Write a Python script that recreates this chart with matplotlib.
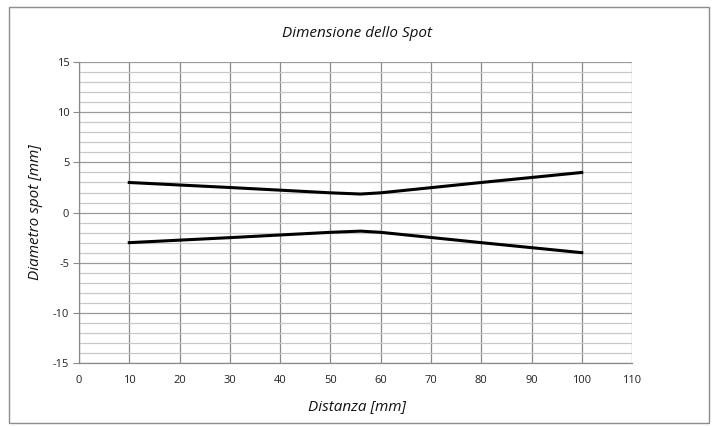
import numpy as np
import matplotlib.pyplot as plt
from matplotlib.patches import Rectangle

# data
distanza = [10, 30, 50, 56, 60, 80, 100]  # mm
raggio_sup = [3.0, 2.5, 1.97, 1.85, 1.97, 3.0, 4.0]  # upper edge of the spot, mm
raggio_inf = [-3.0, -2.5, -1.97, -1.85, -1.97, -3.0, -4.0]  # lower edge of the spot, mm

x_ticks = list(range(0, 111, 10))
y_ticks = list(range(-15, 16, 5))

title_font = "Open Sans"
tick_font = "Open Sans"

plt.rcParams["axes.unicode_minus"] = False  # plain hyphen like "-15"


def main():
    fig = plt.figure(figsize=(7.15, 4.26), dpi=100)
    ax = fig.add_axes([0.1105, 0.148, 0.7735, 0.706])

    # light frame around the whole chart
    fig.patches.append(Rectangle((0.012, 0.008), 0.98, 0.975, transform=fig.transFigure,
                                 fill=False, edgecolor="#8c8c8c", linewidth=1.0))

    ax.plot(distanza, raggio_sup, color="black", linewidth=2.2, solid_joinstyle="round")
    ax.plot(distanza, raggio_inf, color="black", linewidth=2.2, solid_joinstyle="round")

    ax.set_xlim(0, 110)
    ax.set_ylim(-15, 15)
    ax.set_xticks(x_ticks)
    ax.set_yticks(y_ticks)
    ax.set_yticks(range(-15, 16, 1), minor=True)

    ax.grid(which="major", axis="x", color="#8a8a8a", linewidth=0.9)
    ax.grid(which="major", axis="y", color="#9a9a9a", linewidth=0.9)
    ax.grid(which="minor", axis="y", color="#c8c8c8", linewidth=0.9)
    ax.set_axisbelow(True)

    for side in ["top", "right"]:
        ax.spines[side].set_visible(False)
    for side in ["left", "bottom"]:
        ax.spines[side].set_color("#8a8a8a")
        ax.spines[side].set_linewidth(0.9)

    ax.tick_params(axis="y", which="major", length=4, color="#8a8a8a", pad=3)
    ax.tick_params(axis="y", which="minor", length=0)
    ax.tick_params(axis="x", which="major", length=0, pad=9)
    for lab in ax.get_xticklabels() + ax.get_yticklabels():
        lab.set_fontfamily(tick_font)
        lab.set_fontsize(8)
        lab.set_color("#222222")

    fig.text(0.5, 0.922, "Dimensione dello Spot", ha="center", va="center",
             fontsize=11, style="italic", family=title_font, color="#111111")
    fig.text(0.5, 0.045, "Distanza [mm]", ha="center", va="center",
             fontsize=11, style="italic", family=title_font, color="#111111")
    fig.text(0.05, 0.501, "Diametro spot [mm]", ha="center", va="center", rotation=90,
             fontsize=11, style="italic", family=title_font, color="#111111")

    fig.savefig("out.png", dpi=100)


if __name__ == "__main__":
    main()
